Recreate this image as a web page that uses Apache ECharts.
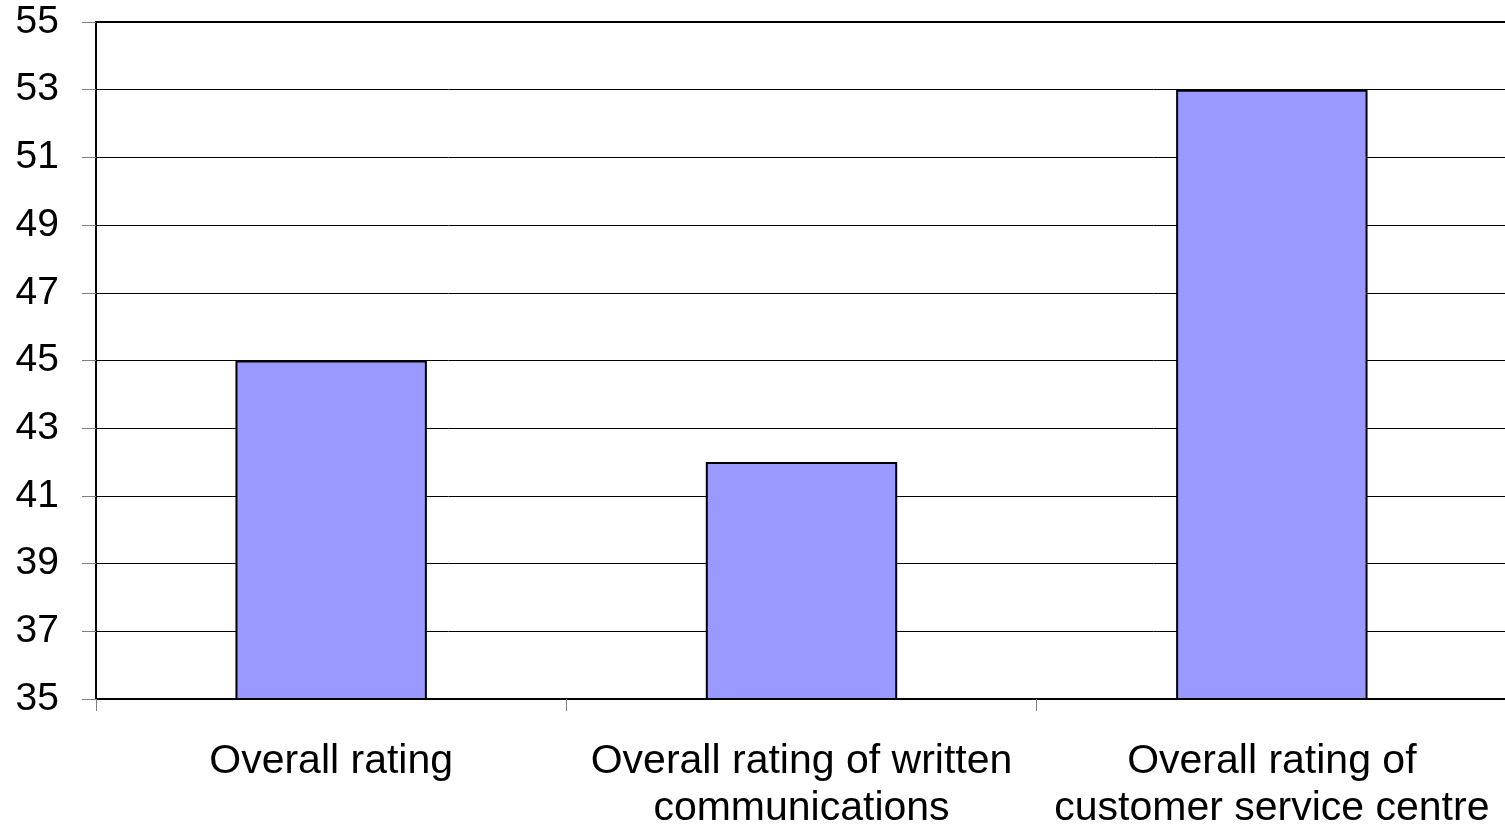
<!DOCTYPE html>
<html>
<head>
<meta charset="utf-8">
<script src="https://cdn.jsdelivr.net/npm/echarts@6/dist/echarts.min.js"></script>
<style>html,body{margin:0;padding:0;background:#fff}#c{width:1505px;height:826px}</style>
</head>
<body>
<div id="c"></div>
<script>
const categories = ['Overall rating', 'Overall rating of written\ncommunications', 'Overall rating of\ncustomer service centre'];
const values = [45, 42, 53];
const yMin = 35, yMax = 55, yInterval = 2;

const chart = echarts.init(document.getElementById('c'), null, {renderer: 'canvas'});
chart.setOption({
  animation: false,
  backgroundColor: '#ffffff',
  grid: {left: 96, top: 22, right: -2, bottom: 127, outerBoundsMode: 'none', containLabel: false, show: true, borderColor: '#000', borderWidth: 2, backgroundColor: 'transparent'},
  xAxis: {
    type: 'category',
    data: categories,
    boundaryGap: true,
    axisLine: {show: true, lineStyle: {color: '#000', width: 2}},
    axisTick: {show: true, alignWithLabel: false, length: 12, lineStyle: {color: '#808080', width: 1}},
    axisLabel: {color: '#000', fontFamily: 'Liberation Sans', fontSize: 41, lineHeight: 47, margin: 39, interval: 0}
  },
  yAxis: {
    type: 'value',
    min: yMin, max: yMax, interval: yInterval,
    axisLine: {show: true, lineStyle: {color: '#000', width: 2}},
    axisTick: {show: true, length: 14, lineStyle: {color: '#808080', width: 1}},
    axisLabel: {color: '#000', fontFamily: 'Liberation Sans', fontSize: 39, margin: 37},
    splitLine: {show: true, lineStyle: {color: '#000', width: 1}}
  },
  series: [{
    type: 'bar',
    data: values,
    barWidth: '40.7%',
    itemStyle: {color: '#9999FF', borderColor: '#000', borderWidth: 2}
  }]
});
</script>
</body>
</html>
